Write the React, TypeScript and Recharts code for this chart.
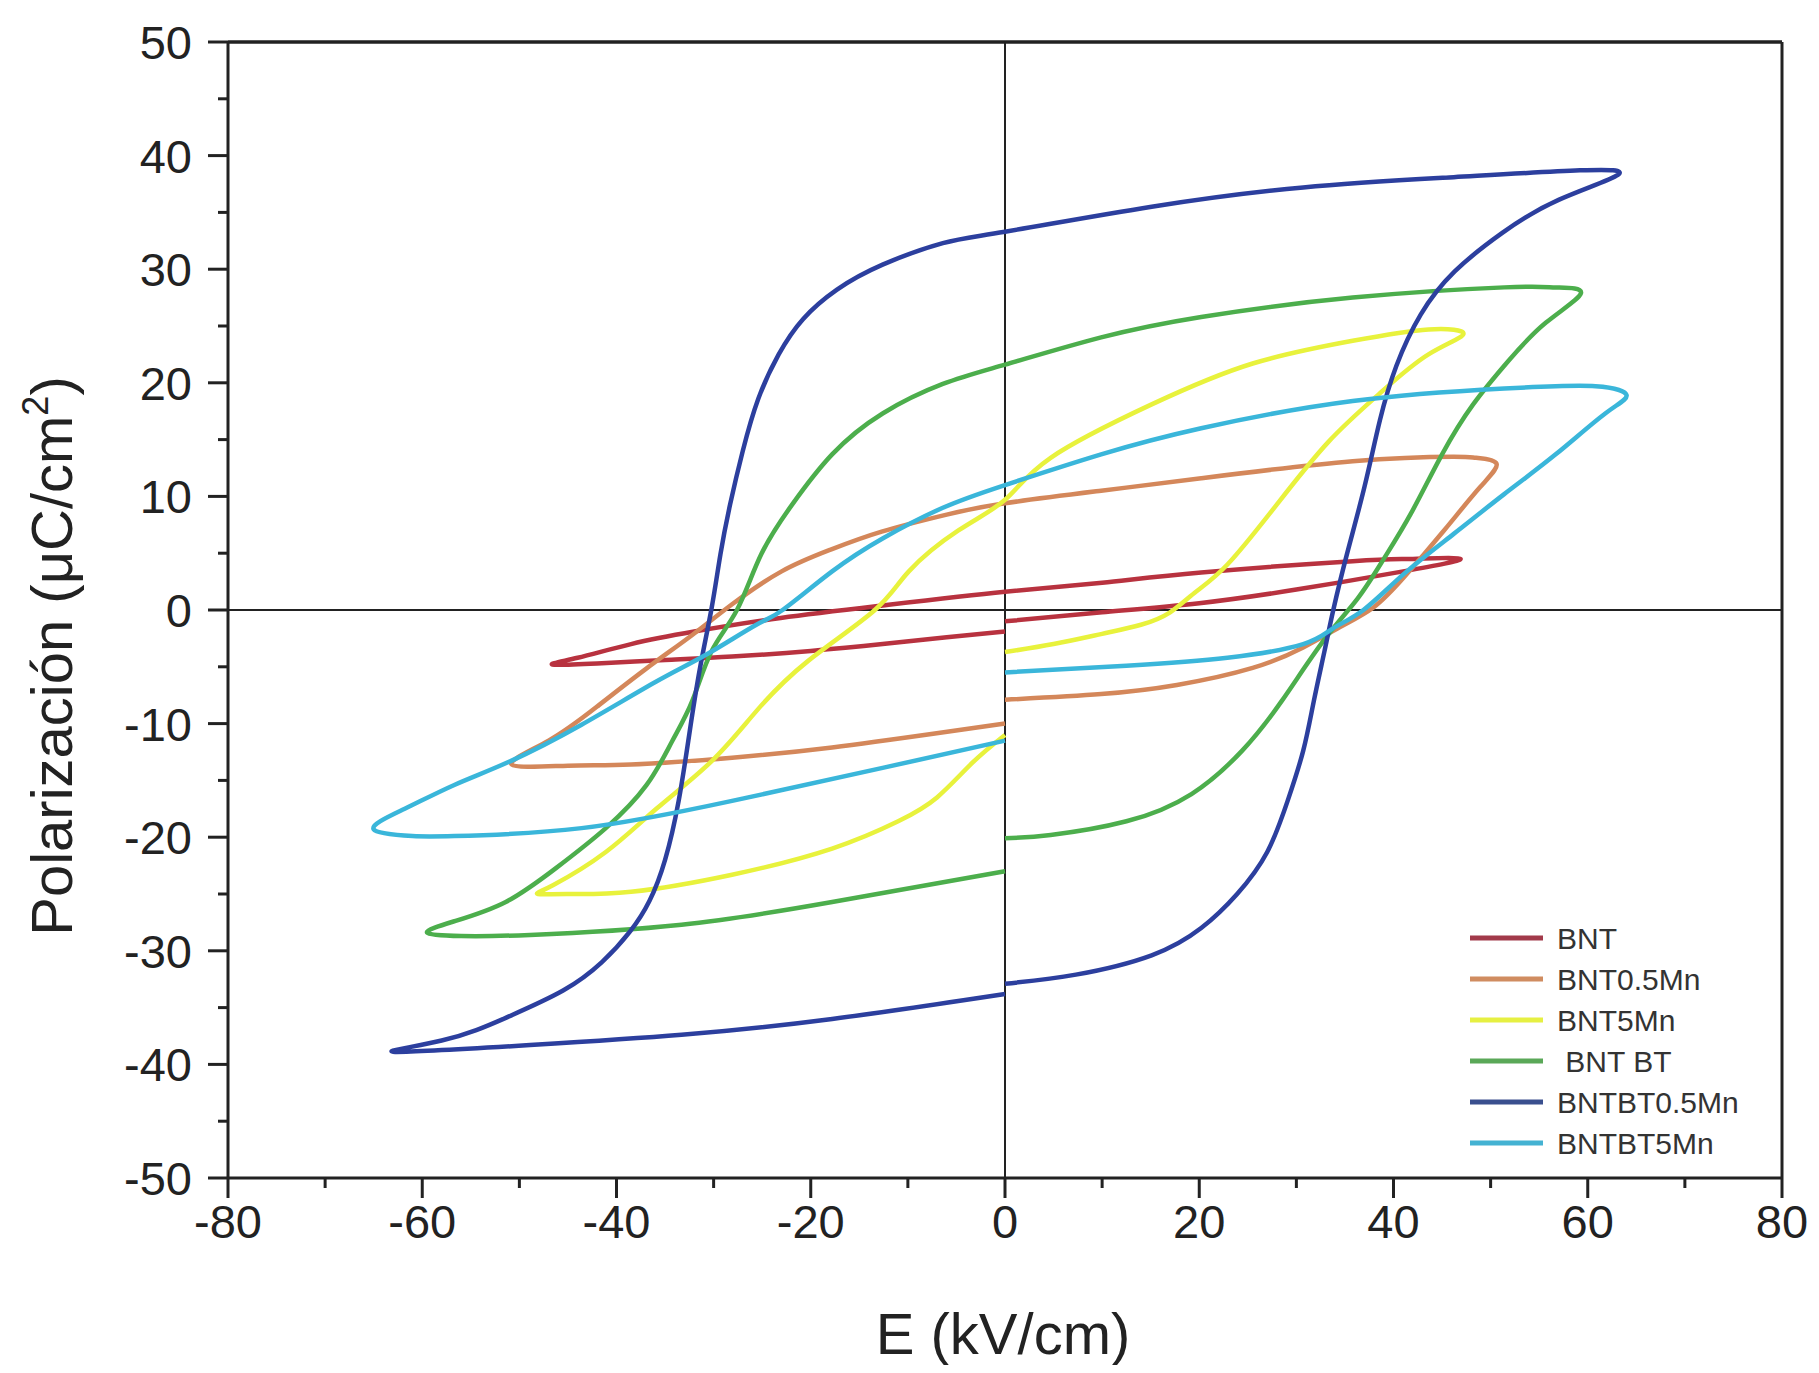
import React from 'react';
import { LineChart, Line, XAxis, YAxis, ReferenceLine, Label } from 'recharts';

const bnt: number[][] = [
  [0, -1.0], [10, -0.2], [20, 0.6], [30, 1.8], [41, 3.4], [46.9, 4.5], [42, 4.5], [35.8, 4.3],
  [20.2, 3.3], [10, 2.4], [0, 1.6], [-12.6, 0.4], [-23.1, -0.7], [-32, -1.9], [-38.5, -3.0],
  [-44, -4.2], [-46.6, -4.8], [-42, -4.7], [-35, -4.4], [-28.1, -4.1], [-20, -3.6], [-12.6, -3.0],
  [-6, -2.4], [0, -1.9],
];
const bnt05: number[][] = [
  [0, -7.9], [9.9, -7.4], [17.7, -6.6], [25.5, -5.1], [30.7, -3.3], [34.5, -1.5], [37.9, 0.2],
  [41.1, 2.9], [45.2, 7.0], [48.9, 10.8], [50.6, 12.9], [48.5, 13.4], [46.2, 13.5], [35.8, 13.1],
  [20.2, 11.6], [9.9, 10.5], [0, 9.4], [-6, 8.4], [-12.7, 6.9], [-18, 5.3], [-23, 3.4], [-28.1, 0.5],
  [-32.2, -2.2], [-37, -5.2], [-42, -8.5], [-47, -11.5], [-50.8, -13.6], [-45, -13.7], [-38.5, -13.6],
  [-28.1, -13.0], [-17.8, -12.1], [-7.4, -10.9], [0, -10.0],
];
const bnt5: number[][] = [
  [0, -3.7], [5, -3.0], [10, -2.1], [14, -1.3], [17, -0.2], [19.5, 1.5], [22.9, 4.0], [28, 9.3],
  [33.3, 14.8], [38.5, 19.0], [43.6, 22.5], [47.2, 24.3], [43.6, 24.7], [35.8, 23.7], [25.5, 21.7],
  [15.1, 18.1], [4.7, 13.4], [0, 9.7], [-4.8, 7.0], [-9.9, 3.4], [-13.4, 0], [-20.3, -4.5],
  [-25.6, -8.9], [-30.2, -13.3], [-35.9, -17.5], [-41.1, -21.3], [-46.5, -24.2], [-48.1, -25.0],
  [-45, -25.0], [-38.5, -24.8], [-28.1, -23.3], [-17.8, -21.0], [-11, -18.6], [-7, -16.5],
  [-3.3, -13.4], [0, -11.0],
];
const bntbt: number[][] = [
  [0, -20.1], [4.7, -19.8], [12.5, -18.6], [19.2, -16.2], [24.4, -12.4], [28.5, -8.0], [32.8, -2.7],
  [36.3, 1.0], [39, 4.5], [41.8, 8.5], [45.0, 13.7], [48.2, 18.1], [51.8, 21.9], [55.7, 25.3],
  [59.3, 27.9], [56.7, 28.4], [51.4, 28.4], [35.8, 27.5], [20.2, 25.8], [9.9, 24.0], [0, 21.6],
  [-6.4, 19.9], [-12.6, 17.3], [-17.8, 13.7], [-21.9, 9.3], [-25.1, 4.9], [-27.6, 0], [-30.2, -3.6],
  [-32.2, -8.0], [-34.3, -11.6], [-36.9, -15.4], [-41.1, -19.2], [-46.2, -22.7], [-51.4, -25.7],
  [-56.7, -27.4], [-59.5, -28.4], [-56, -28.7], [-48.9, -28.6], [-33.3, -27.7], [-17.8, -25.7],
  [0, -23.0],
];
const bntbt05: number[][] = [
  [0, -32.9], [7.3, -32.1], [15.1, -30.4], [20.2, -28.0], [23.9, -25.0], [27.0, -21.3], [29.1, -16.8],
  [30.7, -12.4], [31.8, -8.0], [32.9, -3.6], [33.8, 0], [35.2, 4.9], [37.0, 10.8], [38.6, 16.7],
  [40.3, 21.5], [42.8, 26.0], [46.3, 29.8], [51.2, 33.2], [57.0, 36.1], [63.1, 38.3], [59.2, 38.7],
  [46.2, 38.1], [30.7, 37.2], [15.1, 35.5], [0, 33.3], [-6.4, 32.3], [-12.6, 30.4], [-17.3, 28.2],
  [-20.8, 25.6], [-23.3, 22.5], [-25.4, 18.6], [-27.0, 14.0], [-28.3, 9.3], [-29.3, 4.9],
  [-30.2, 0.2], [-31.4, -5.1], [-32.5, -10.9], [-33.6, -16.8], [-35.0, -22.0], [-36.6, -25.6],
  [-38.6, -28.3], [-41.5, -31.0], [-45.5, -33.5], [-51.4, -35.9], [-58, -37.9], [-62.8, -38.9],
  [-48.9, -38.3], [-33.3, -37.4], [-17.8, -36.0], [0, -33.8],
];
const bntbt5: number[][] = [
  [0, -5.5], [12.5, -4.9], [22.9, -4.2], [30.7, -3.0], [33.8, -1.6], [36.9, 0], [41.1, 3.2],
  [46.2, 6.7], [51.4, 10.2], [56.7, 13.7], [61.8, 17.3], [64.0, 18.9], [60.8, 19.7], [51.4, 19.5],
  [35.8, 18.4], [20.2, 16.0], [9.9, 13.7], [0, 11.0], [-6.4, 9.0], [-12.6, 6.3], [-17.8, 3.4],
  [-22.9, 0], [-25.6, -1.3], [-30.7, -3.9], [-35.9, -6.3], [-43.6, -10.1], [-50.9, -13.3],
  [-56.7, -15.4], [-61.8, -17.5], [-65.0, -19.3], [-61, -19.9], [-56.7, -19.9], [-43.6, -19.2],
  [-28.1, -16.8], [-12.6, -13.9], [0, -11.5],
];

const seriesNames = ['BNT', 'BNT0.5Mn', 'BNT5Mn', ' BNT BT', 'BNTBT0.5Mn', 'BNTBT5Mn'];
const seriesData = [bnt, bnt05, bnt5, bntbt, bntbt05, bntbt5];
const lineColors = ['#b8323f', '#d4875a', '#e8f23c', '#4cae4c', '#2c3f9e', '#3ab6da'];
const legendColors = ['#a23a4a', '#d08c60', '#e6f042', '#5aa858', '#3a4f8e', '#44b2d2'];

const xTicks = [-80, -70, -60, -50, -40, -30, -20, -10, 0, 10, 20, 30, 40, 50, 60, 70, 80];
const yTicks = [-50, -45, -40, -35, -30, -25, -20, -15, -10, -5, 0, 5, 10, 15, 20, 25, 30, 35, 40, 45, 50];

const FONT = '"Liberation Sans", Arial, Helvetica, sans-serif';
const INK = '#222';

const W = 1800;
const H = 1357;

const YTick = (props: any) => {
  const { x, y, payload } = props;
  const v = payload.value as number;
  const major = v % 10 === 0;
  return (
    <g>
      <line x1={x - (major ? 20 : 10)} x2={x} y1={y} y2={y} stroke={INK} strokeWidth={3} />
      {major && (
        <text x={x - 36} y={y} dy="0.36em" textAnchor="end" fontSize={47} fontFamily={FONT} fill={INK}>
          {v}
        </text>
      )}
    </g>
  );
};

const XTick = (props: any) => {
  const { x, y, payload } = props;
  const v = payload.value as number;
  const major = v % 20 === 0;
  return (
    <g>
      <line x1={x} x2={x} y1={y} y2={y + (major ? 20 : 10)} stroke={INK} strokeWidth={3} />
      {major && (
        <text x={x} y={y + 60} textAnchor="middle" fontSize={47} fontFamily={FONT} fill={INK}>
          {v}
        </text>
      )}
    </g>
  );
};

const LegendBox = () => (
  <g transform="translate(1450, 900)">
    {seriesNames.map((n, i) => {
      const cy = 30 + i * 41;
      return (
        <g key={n}>
          <line x1={12} x2={85} y1={cy} y2={cy} stroke={legendColors[i]} strokeWidth={5} />
          <text x={99} y={cy} dy="0.36em" fontSize={30} fontFamily={FONT} fill="#333" style={{ whiteSpace: 'pre' }}>
            {n}
          </text>
        </g>
      );
    })}
  </g>
);

export default function App() {
  return (
    <div style={{ width: W, height: H, background: '#fff' }}>
      <LineChart width={W} height={H} margin={{ top: 34, right: 26, left: 0, bottom: 87 }}>
        <XAxis
          type="number"
          dataKey="x"
          domain={[-80, 80]}
          ticks={xTicks}
          interval={0}
          height={100}
          tickSize={0}
          tickMargin={0}
          tickLine={false}
          axisLine={{ stroke: INK, strokeWidth: 3 }}
          tick={XTick}
          allowDataOverflow
        >
          <Label
            content={() => (
              <text x={995} y={1346} textAnchor="middle" fontSize={58} fontFamily={FONT} fill={INK}>
                E (kV/cm)
              </text>
            )}
          />
        </XAxis>
        <YAxis
          type="number"
          dataKey="y"
          domain={[-50, 50]}
          ticks={yTicks}
          interval={0}
          width={220}
          tickSize={0}
          tickMargin={0}
          tickLine={false}
          axisLine={{ stroke: INK, strokeWidth: 3 }}
          tick={YTick}
          allowDataOverflow
        >
          <Label
            content={() => (
              <text
                x={64}
                y={648}
                transform="rotate(-90, 64, 648)"
                textAnchor="middle"
                fontSize={58}
                fontFamily={FONT}
                fill={INK}
              >
                Polarización (μC/cm
                <tspan fontSize={36} dy={-24}>2</tspan>
                <tspan dy={24}>)</tspan>
              </text>
            )}
          />
        </YAxis>
        <ReferenceLine y={50} stroke={INK} strokeWidth={3.5} />
        <ReferenceLine x={80} stroke={INK} strokeWidth={3} />
        <ReferenceLine x={0} stroke={INK} strokeWidth={2} />
        <ReferenceLine y={0} stroke={INK} strokeWidth={2} />
        {seriesData.map((d, i) => (
          <Line
            key={seriesNames[i]}
            name={seriesNames[i]}
            data={d.map(([x, y]) => ({ x, y }))}
            dataKey="y"
            type="natural"
            stroke={lineColors[i]}
            strokeWidth={4.5}
            dot={false}
            activeDot={false}
            isAnimationActive={false}
          />
        ))}
        <ReferenceLine y={-50} stroke="none" label={<LegendBox />} />
      </LineChart>
    </div>
  );
}
